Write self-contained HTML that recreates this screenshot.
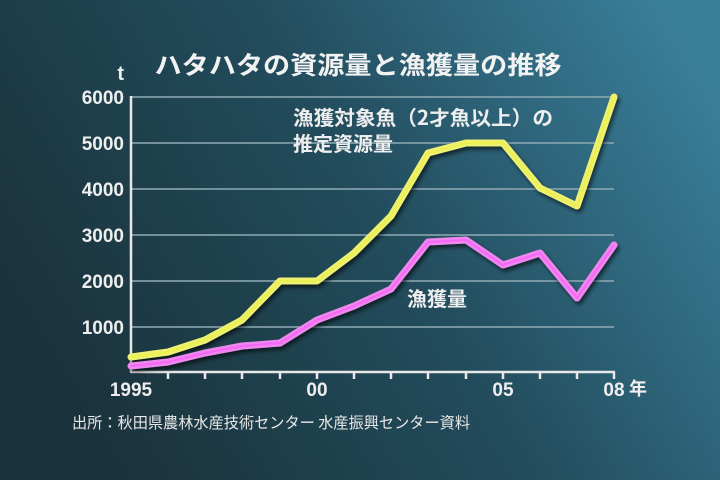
<!DOCTYPE html>
<html><head><meta charset="utf-8"><style>
html,body{margin:0;padding:0;width:720px;height:480px;overflow:hidden}
</style></head><body>
<svg width="720" height="480" xmlns="http://www.w3.org/2000/svg" font-family="'Liberation Sans','Noto Sans CJK JP',sans-serif">
<defs>
<linearGradient id="bg" x1="0" y1="0.6" x2="1" y2="0.2">
<stop offset="0" stop-color="#1a323b"/>
<stop offset="0.5" stop-color="#224c5c"/>
<stop offset="1" stop-color="#3a7f9a"/>
</linearGradient>
<filter id="sh" x="-10%" y="-10%" width="120%" height="130%"><feDropShadow dx="2" dy="3" stdDeviation="2" flood-color="#000" flood-opacity="0.6"/></filter>
</defs>
<rect width="720" height="480" fill="url(#bg)"/>
<text x="358" y="74" fill="#f2f2f2" font-size="25" font-weight="bold" text-anchor="middle" textLength="407" lengthAdjust="spacingAndGlyphs" font-family="'Noto Sans CJK JP',sans-serif">ハタハタの資源量と漁獲量の推移</text>
<g stroke="#8aa6b0" stroke-width="2" opacity="0.8">
<line x1="131" y1="97" x2="614" y2="97"/><line x1="131" y1="143" x2="614" y2="143"/>
<line x1="131" y1="189" x2="614" y2="189"/><line x1="131" y1="235" x2="614" y2="235"/>
<line x1="131" y1="281" x2="614" y2="281"/><line x1="131" y1="327" x2="614" y2="327"/>
</g>
<g stroke="#e8e8e8" stroke-width="2.5" fill="none">
<line x1="131" y1="96" x2="131" y2="373"/>
<line x1="131" y1="372" x2="615" y2="372"/>
<path d="M168 372v7M205 372v7M242 372v7M280 372v7M317 372v7M354 372v7M391 372v7M428 372v7M466 372v7M503 372v7M540 372v7M577 372v7M614 372v7"/>
</g>
<g fill="#eeeeee" font-weight="bold" font-size="19" text-anchor="end">
<text x="124" y="104">6000</text><text x="124" y="150">5000</text><text x="124" y="196">4000</text>
<text x="124" y="242">3000</text><text x="124" y="288">2000</text><text x="124" y="334">1000</text>
<text x="124" y="80" font-size="20">t</text>
</g>
<g fill="#eeeeee" font-weight="bold" font-size="19" text-anchor="middle">
<text x="131" y="396">1995</text><text x="317" y="396">00</text><text x="503" y="396">05</text>
<text x="614" y="396">08</text><text x="638" y="395" font-size="18" font-family="'Noto Sans CJK JP',sans-serif">年</text>
</g>
<polyline filter="url(#sh)" fill="none" stroke="#eef070" stroke-width="7" stroke-linejoin="round" stroke-linecap="round" points="131,357 168,352 205,340 242,320 280,281 317,281 354,253 391,216 428,153 466,143 503,143 540,188 577,206 614,97"/>
<polyline fill="none" stroke="#e8f030" stroke-width="2" stroke-linejoin="round" opacity="0.5" points="131,357 168,352 205,340 242,320 280,281 317,281 354,253 391,216 428,153 466,143 503,143 540,188 577,206 614,97"/>
<polyline filter="url(#sh)" fill="none" stroke="#ee88ee" stroke-width="7" stroke-linejoin="round" stroke-linecap="round" points="131,366 168,362 205,353 242,346 280,343 317,320 354,306 391,289 428,242 466,240 503,265 540,253 577,298 614,245"/>
<polyline fill="none" stroke="#ff44ff" stroke-width="2" stroke-linejoin="round" opacity="0.5" points="131,366 168,362 205,353 242,346 280,343 317,320 354,306 391,289 428,242 466,240 503,265 540,253 577,298 614,245"/>
<g fill="#eeeeee" font-weight="bold" font-size="20" font-family="'Noto Sans CJK JP',sans-serif">
<text x="293" y="125" textLength="260" lengthAdjust="spacingAndGlyphs">漁獲対象魚（2才魚以上）の</text>
<text x="293" y="151">推定資源量</text>
<text x="407" y="306">漁獲量</text>
</g>
<text x="72" y="428" fill="#e8e8e8" font-size="15.5" textLength="398" lengthAdjust="spacingAndGlyphs" font-family="'Noto Sans CJK JP',sans-serif">出所：秋田県農林水産技術センター 水産振興センター資料</text>
</svg>
</body></html>
